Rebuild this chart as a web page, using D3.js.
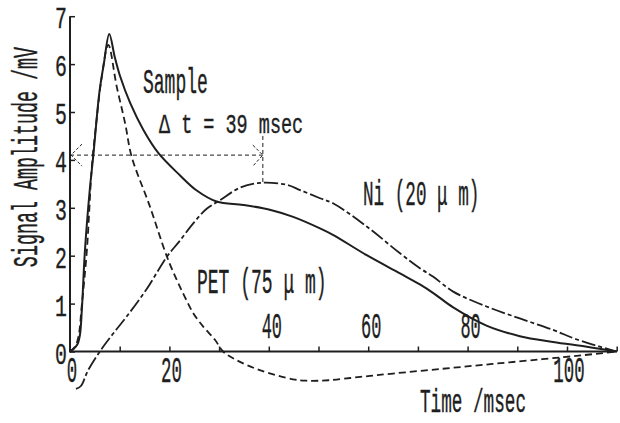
<!DOCTYPE html>
<html>
<head>
<meta charset="utf-8">
<script src="https://cdn.jsdelivr.net/npm/d3@7/dist/d3.min.js"></script>
<style>
  html, body { margin: 0; padding: 0; background: #fff; }
  svg { display: block; }
</style>
</head>
<body>
<svg id="chart" width="620" height="423"></svg>
<script>
// Time axis (msec) and amplitude values (mV) for each trace
const sampleTime = [0, 0.7, 1.5, 2.0, 2.4, 3.0, 4.0, 4.7, 5.9, 6.8, 7.9, 9.0, 10.1, 12.1, 14.8, 17.8, 22.1, 25.5, 29.5, 34.9, 40.2, 44.9, 50.3, 53.0, 59.7, 66.4, 70.4, 73.1, 77.1, 83.8, 90.5, 97.2, 104, 110];
const sampleAmp  = [0, 0.05, 0.15, 0.35, 0.9, 2.1, 3.4, 4.1, 5.4, 6.0, 6.63, 6.15, 5.74, 5.19, 4.62, 4.14, 3.68, 3.36, 3.13, 3.06, 2.96, 2.81, 2.57, 2.43, 2.01, 1.63, 1.4, 1.22, 0.92, 0.54, 0.32, 0.2, 0.1, 0];

const petTime = [0, 1.0, 1.7, 2.35, 3.4, 4.4, 5.2, 6.4, 7.7, 9.4, 11.1, 12.4, 16.0, 19.5, 21.5, 23.1, 24.8, 26.8, 29.2, 30.8, 33.5, 38.2, 44.9, 47.5, 52, 58.4, 65, 75, 85, 95, 103, 110];
const petAmp  = [0, 0.1, 0.31, 0.94, 2.12, 3.86, 4.69, 5.74, 6.4, 5.53, 4.76, 4.07, 3.05, 1.98, 1.49, 1.14, 0.8, 0.52, 0.24, 0, -0.18, -0.39, -0.58, -0.61, -0.6, -0.53, -0.46, -0.36, -0.26, -0.16, -0.08, 0];

const niTime = [1.2, 2.2, 3.6, 6.0, 8.5, 11.4, 15.4, 19.5, 22.0, 25.0, 27.5, 30.2, 34.2, 38.2, 43.6, 46.3, 50.3, 53.0, 59.7, 66.4, 70.4, 73.1, 77.1, 83.8, 90.5, 97.2, 102, 110];
const niAmp  = [-0.78, -0.72, -0.4, 0, 0.35, 0.73, 1.3, 1.98, 2.3, 2.7, 2.98, 3.16, 3.42, 3.52, 3.48, 3.37, 3.2, 3.09, 2.61, 2.05, 1.74, 1.56, 1.25, 0.94, 0.69, 0.45, 0.25, 0];

// Axis ticks and labels
const yTicks = [0, 1, 2, 3, 4, 5, 6, 7];
const xTicks = [10, 20, 30, 40, 50, 60, 70, 80, 90, 100, 110];
const xLabelsBelow = [0, 20, 100];
const xLabelsAbove = [40, 60, 80];

// Delay annotation: level of the arrow, start and end times
const delayLevel = 4.1;
const delayStart = 0;
const delayEnd = 38.8;
const delayTop = 4.5;
const niPeak = 3.52;

const FONT = "'Liberation Mono', 'DejaVu Sans Mono', monospace";
const INK = "#1e1e1e";

const svg = d3.select("#chart");
const x = d3.scaleLinear().domain([0, 110]).range([70, 616.7]);
const y = d3.scaleLinear().domain([0, 7]).range([351.5, 16.2]);

// condensed text helper
function label(str, px, py, size, sx, anchor, rot) {
  return svg.append("text")
    .attr("transform", `translate(${px},${py})` + (rot ? ` rotate(${rot})` : "") + ` scale(${sx},1)`)
    .attr("font-family", FONT)
    .attr("font-size", size)
    .attr("text-anchor", anchor || "start")
    .attr("fill", INK)
    .attr("stroke", INK)
    .attr("stroke-width", 0.4)
    .text(str);
}

// axes
const yAxis = d3.axisRight(y).tickValues(yTicks).tickSize(5).tickFormat("");
const gy = svg.append("g").attr("transform", `translate(${x(0)},0)`).call(yAxis);
const xAxis = d3.axisTop(x).tickValues(xTicks).tickSize(5).tickFormat("");
const gx = svg.append("g").attr("transform", `translate(0,${y(0)})`).call(xAxis);
[gx, gy].forEach(g => {
  g.select(".domain").attr("stroke", INK).attr("stroke-width", 2);
  g.selectAll(".tick line").attr("stroke", INK).attr("stroke-width", 1.5);
});
gx.select(".domain").attr("d", `M${x(0)},0H${x(110)}`);
gy.select(".domain").attr("d", `M0,${y(7)}V${y(0) + 1}`);

// tick labels
yTicks.forEach(v => label(String(v), 67, y(v) + 12, 30, 0.66, "end"));
xLabelsBelow.forEach(v => label(String(v), x(v) + 2, 382, 37, 0.47, "middle"));
xLabelsAbove.forEach(v => label(String(v), x(v) + 3, 338, 36, 0.47, "middle"));

// axis titles
label("Time /msec", 420, 412, 34, 0.52, "start");
label("Signal Amplitude /mV", 37, 157, 36, 0.51, "middle", -90);

// traces
const line = d3.line().x(d => x(d[0])).y(d => y(d[1])).curve(d3.curveCatmullRom.alpha(0.5));
const zipped = (ts, vs) => ts.map((t, i) => [t, vs[i]]);

svg.append("path").datum(zipped(niTime, niAmp))
  .attr("d", line).attr("fill", "none").attr("stroke", INK)
  .attr("stroke-width", 1.8).attr("stroke-dasharray", "14,3,4,3");
svg.append("path").datum(zipped(petTime, petAmp))
  .attr("d", line).attr("fill", "none").attr("stroke", INK)
  .attr("stroke-width", 1.8).attr("stroke-dasharray", "7,4");
svg.append("path").datum(zipped(sampleTime, sampleAmp))
  .attr("d", line).attr("fill", "none").attr("stroke", INK)
  .attr("stroke-width", 2);

// delay arrow
const ay = y(delayLevel), ax0 = x(delayStart), ax1 = x(delayEnd);
svg.append("line").attr("x1", ax0).attr("x2", ax1).attr("y1", ay).attr("y2", ay)
  .attr("stroke", INK).attr("stroke-width", 1).attr("stroke-dasharray", "4,3");
svg.append("line").attr("x1", ax1).attr("x2", ax1).attr("y1", y(delayTop)).attr("y2", y(niPeak))
  .attr("stroke", INK).attr("stroke-width", 1).attr("stroke-dasharray", "4,3");
svg.append("path").attr("d", `M${ax0 + 12},${ay - 11}L${ax0 + 1},${ay}L${ax0 + 12},${ay + 11}`)
  .attr("fill", "none").attr("stroke", INK).attr("stroke-width", 1).attr("stroke-dasharray", "3,2");
svg.append("path").attr("d", `M${ax1 - 10},${ay - 10}L${ax1},${ay}L${ax1 - 10},${ay + 11}`)
  .attr("fill", "none").attr("stroke", INK).attr("stroke-width", 1).attr("stroke-dasharray", "3,2");

// annotations
label("Sample", 143, 93, 36, 0.5, "start");
label("Δ t = 39 msec", 159, 133, 28, 0.66, "start");
label("Ni (20 μ m)", 363, 205, 36, 0.49, "start");
label("PET (75 μ m)", 197, 293, 36, 0.5, "start");
</script>
</body>
</html>
